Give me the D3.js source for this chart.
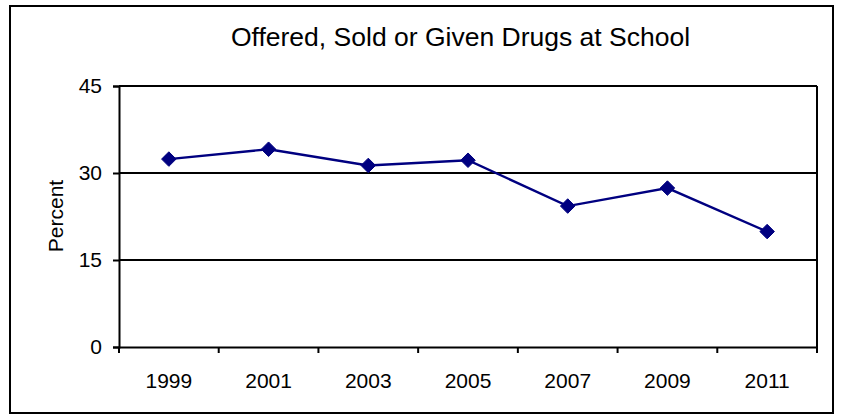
<!DOCTYPE html>
<html><head><meta charset="utf-8">
<script src="https://cdn.jsdelivr.net/npm/d3@7"></script>
<style>body{margin:0;background:#fff;}svg{display:block;font-family:"Liberation Sans",Arial,sans-serif;}</style>
</head><body>
<script>
const years = ["1999","2001","2003","2005","2007","2009","2011"];
const percent = [32.4, 34.1, 31.3, 32.2, 24.3, 27.4, 19.9];
const yTicks = [0, 15, 30, 45];
const title = "Offered, Sold or Given Drugs at School";
const yLabel = "Percent";

const W = 841, H = 416;
const m = {left:119, right:817, top:86, bottom:347};
const FONT = "Liberation Sans, Arial, sans-serif";
const svg = d3.select("body").append("svg").attr("width", W).attr("height", H);

svg.append("rect").attr("x",10).attr("y",6).attr("width",823).attr("height",407)
  .attr("fill","#fff").attr("stroke","#000").attr("stroke-width",2);

const x = d3.scaleBand().domain(years).range([m.left, m.right]);
const y = d3.scaleLinear().domain([0,45]).range([m.bottom, m.top]);

// gridlines
svg.append("g").selectAll("line").data(yTicks.filter(t=>t>0)).join("line")
  .attr("x1", m.left).attr("x2", m.right)
  .attr("y1", d=>y(d)).attr("y2", d=>y(d))
  .attr("stroke","#000").attr("stroke-width",2);
// right border
svg.append("line").attr("x1",m.right).attr("x2",m.right).attr("y1",m.top).attr("y2",m.bottom)
  .attr("stroke","#000").attr("stroke-width",2);

// y axis
const ya = svg.append("g").attr("transform",`translate(${m.left},0)`)
  .call(d3.axisLeft(y).tickValues(yTicks).tickSize(6).tickPadding(11));
ya.attr("font-size",21).attr("font-family",FONT);
ya.select(".domain").attr("stroke","#000").attr("stroke-width",2);
ya.selectAll(".tick line").attr("stroke-width",2);
ya.selectAll("text").attr("fill","#000");

// x axis
const xa = svg.append("g").attr("transform",`translate(0,${m.bottom})`)
  .call(d3.axisBottom(x).tickSize(0).tickPadding(26));
xa.attr("font-size",21).attr("font-family",FONT);
xa.select(".domain").attr("stroke","#000").attr("stroke-width",2);
xa.selectAll(".tick line").remove();
xa.selectAll("text").attr("fill","#000");
// category boundary ticks
const bounds = years.map(d=>x(d)).concat([m.right]);
svg.append("g").selectAll("line").data(bounds).join("line")
  .attr("x1",d=>d).attr("x2",d=>d).attr("y1",m.bottom).attr("y2",m.bottom+6)
  .attr("stroke","#000").attr("stroke-width",2);

const cx = d => x(d) + x.bandwidth()/2;
const pts = years.map((d,i)=>[cx(d), y(percent[i])]);
svg.append("path").attr("d", d3.line()(pts)).attr("fill","none")
  .attr("stroke","#000080").attr("stroke-width",2.4);
svg.append("g").selectAll("path").data(pts).join("path")
  .attr("transform", d=>`translate(${d[0]},${d[1]})`)
  .attr("d", d3.symbol(d3.symbolDiamond2, 135)())
  .attr("fill","#000080").attr("stroke","#000080").attr("stroke-width",1);

svg.append("text").attr("x",460.5).attr("y",46).attr("text-anchor","middle")
  .attr("font-size",26.5).attr("font-family",FONT).attr("fill","#000").text(title);
svg.append("text").attr("transform","translate(63,216) rotate(-90)").attr("text-anchor","middle")
  .attr("font-size",21).attr("font-family",FONT).attr("fill","#000").text(yLabel);
</script>
</body></html>
